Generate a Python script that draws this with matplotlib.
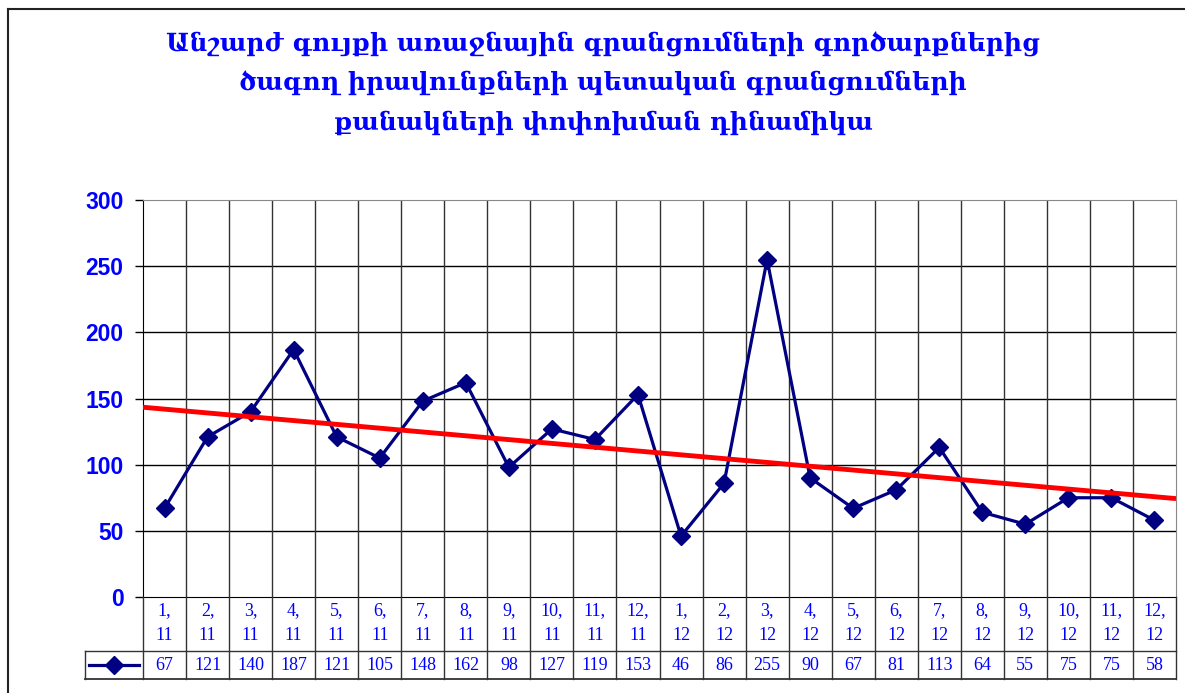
import numpy as np
import matplotlib
matplotlib.use("Agg")
import matplotlib.pyplot as plt
from matplotlib.lines import Line2D

# Data
months = ["1,", "2,", "3,", "4,", "5,", "6,", "7,", "8,", "9,", "10,", "11,", "12,"] * 2
years = ["11"] * 12 + ["12"] * 12
values = [67, 121, 140, 187, 121, 105, 148, 162, 98, 127, 119, 153,
          46, 86, 255, 90, 67, 81, 113, 64, 55, 75, 75, 58]
title_lines = ["Անշարժ գույքի առաջնային գրանցումների գործարքներից",
               "ծագող իրավունքների պետական գրանցումների",
               "քանակների փոփոխման դինամիկա"]
yticks = [0, 50, 100, 150, 200, 250, 300]

blue = "#0000FF"
navy = "#000080"
W, H = 1185, 693

fig = plt.figure(figsize=(W / 100, H / 100), dpi=100)

# title
for i, t in enumerate(title_lines):
    fig.text(603 / W, 1 - (44 + 39.5 * i) / H, t, ha="center", va="center",
             color=blue, fontsize=18, fontweight="bold", family="DejaVu Serif")

# frame (top and left edges)
fig.add_artist(Line2D([8 / W, 1], [1 - 9 / H, 1 - 9 / H], color="#222222", lw=1.5))
fig.add_artist(Line2D([8 / W, 8 / W], [0, 1 - 9 / H], color="#222222", lw=1.5))

x = np.arange(len(values))
L, R, T, B = 143, 1176, 200, 597
ax = fig.add_axes([L / W, 1 - B / H, (R - L) / W, (B - T) / H])
ax.set_xlim(-0.5, len(values) - 0.5)
ax.set_ylim(0, 300)

for yv in yticks[1:-1]:
    ax.axhline(yv, color="black", lw=1, zorder=1)
for xb in np.arange(0.5, len(values) - 0.5, 1):
    ax.axvline(xb, color="#333333", lw=1, zorder=1)

ax.plot(x, values, color=navy, lw=2.3, marker="D", ms=9, zorder=3)

# linear trend
k, b = np.polyfit(x, values, 1)
xe = np.array([-0.5, len(values) - 0.5])
ax.plot(xe, k * xe + b, color="#FF0000", lw=3.5, zorder=4, solid_capstyle="butt")

ax.set_yticks(yticks)
ax.set_yticklabels([str(v) for v in yticks], color=blue, fontsize=16.5,
                   fontweight="bold", family="Liberation Sans")
ax.tick_params(axis="y", length=6, width=1, pad=8)
ax.set_xticks([])
for s in ["top", "right"]:
    ax.spines[s].set_color("#888888")
ax.spines["left"].set_color("black")
ax.spines["bottom"].set_color("black")

# data table
TB = 679
tax = fig.add_axes([L / W, 1 - TB / H, (R - L) / W, (TB - B) / H])
tax.set_xlim(-0.5, len(values) - 0.5)
tax.set_ylim(0, 1)
tax.axis("off")
mid = (TB - 651) / (TB - B)
cell = (R - L) / len(values)
lx = -0.5 - (L - 85) / cell

for xb in np.arange(-0.5, len(values), 1):
    tax.plot([xb, xb], [0, 1], color="#333333", lw=1, clip_on=False)
tax.plot([lx, len(values) - 0.5], [mid, mid], color="#333333", lw=1, clip_on=False)
tax.plot([lx, len(values) - 0.5], [0, 0], color="#333333", lw=1.3, clip_on=False)
tax.plot([lx, lx], [0, mid], color="#333333", lw=1, clip_on=False)

for i in range(len(values)):
    tax.text(i, 1 - 14 / (TB - B), months[i], ha="center", va="center",
             color=blue, fontsize=13, family="Liberation Serif")
    tax.text(i, 1 - 39 / (TB - B), years[i], ha="center", va="center",
             color=blue, fontsize=13, family="Liberation Serif")
    tax.text(i, mid / 2, str(values[i]), ha="center", va="center",
             color=blue, fontsize=13, family="Liberation Serif")

# legend key
tax.plot([lx + 0.1, -0.6], [mid / 2, mid / 2], color=navy, lw=2.3, clip_on=False)
tax.plot([(lx - 0.5) / 2], [mid / 2], color=navy, marker="D", ms=9, clip_on=False)

fig.savefig("out.png", dpi=100)
